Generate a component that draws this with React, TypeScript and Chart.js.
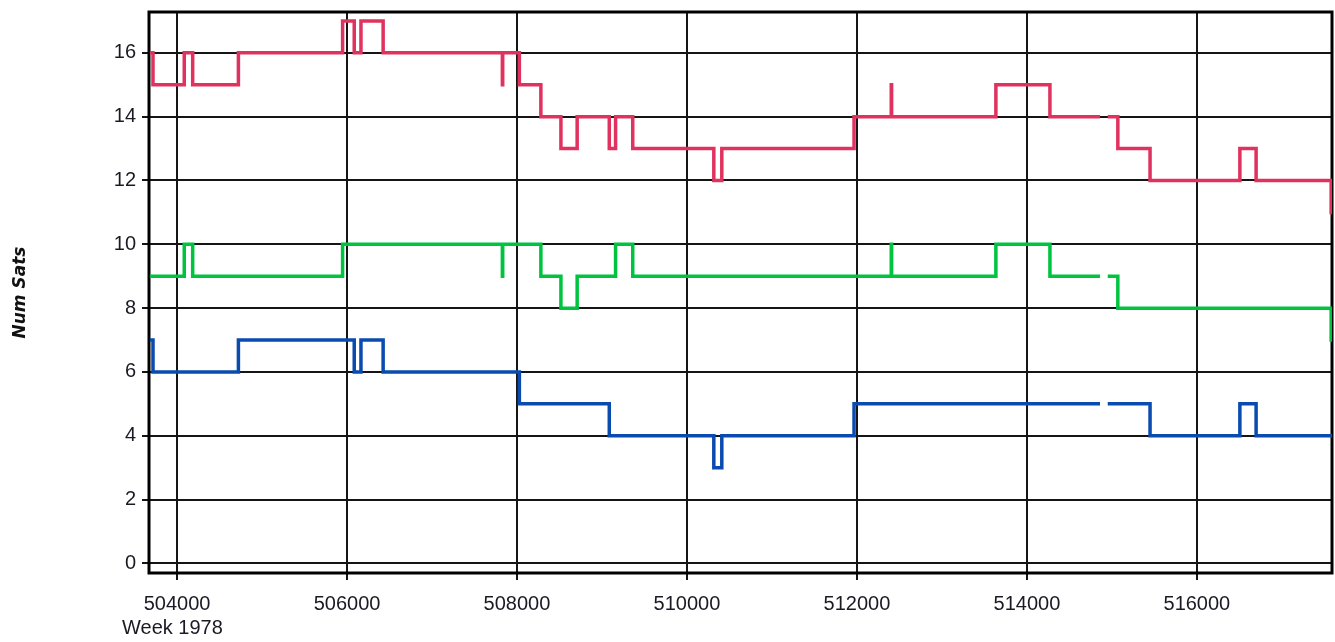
import React, { useEffect, useRef } from 'react';
import { Chart, registerables } from 'chart.js';

Chart.register(...registerables);

// Total satellites (red)
const redWeeks = [503680, 503717, 504085, 504184, 504722, 505948, 506085, 506164, 506425, 507828, 507832, 508028, 508281, 508517, 508708, 509086, 509160, 509362, 510316, 510410, 511966, 512404, 512408, 513635, 514271, 514860, 514900, 514951, 515070, 515449, 516506, 516697, 517580, 517600];
const redSats = [16, 15, 16, 15, 16, 17, 16, 17, 16, 15, 16, 15, 14, 13, 14, 13, 14, 13, 12, 13, 14, 15, 14, 15, 14, 14, null, 14, 13, 12, 13, 12, 11, 11];

// Green series
const greenWeeks = [503680, 504085, 504184, 505948, 507828, 507832, 508281, 508517, 508708, 509160, 509362, 512404, 512408, 513635, 514271, 514860, 514900, 514951, 515070, 517580, 517600];
const greenSats = [9, 10, 9, 10, 9, 10, 9, 8, 9, 10, 9, 10, 9, 10, 9, 9, null, 9, 8, 7, 7];

// Blue series
const blueWeeks = [503680, 503717, 504722, 506085, 506164, 506425, 508028, 509086, 510316, 510410, 511966, 514860, 514900, 514951, 515449, 516506, 516697, 517600];
const blueSats = [7, 6, 7, 6, 7, 6, 5, 4, 3, 4, 5, 5, null, 5, 4, 5, 4, 4];

const xTickValues = [504000, 506000, 508000, 510000, 512000, 514000, 516000];
const yTickValues = [0, 2, 4, 6, 8, 10, 12, 14, 16];
const xAxisLabel = 'Week 1978';
const yAxisLabel = 'Num Sats';

function toPoints(xs: number[], ys: (number | null)[]) {
  return xs.map((x, i) => ({ x, y: ys[i] }));
}

const TICK_FONT = { family: "'Liberation Sans', Arial, sans-serif", size: 20 };
const TEXT_COLOR = '#1a1a24';

export default function App() {
  const ref = useRef<HTMLCanvasElement>(null);

  useEffect(() => {
    document.body.style.margin = '0';
    const canvas = ref.current!;

    const framePlugin = {
      id: 'frame',
      beforeDatasetsDraw(chart: any) {
        const { ctx, chartArea: a } = chart;
        ctx.save();
        ctx.strokeStyle = '#000';
        ctx.lineWidth = 3;
        ctx.strokeRect(a.left, a.top, a.right - a.left, a.bottom - a.top);
        ctx.restore();
      },
      afterDraw(chart: any) {
        const { ctx, chartArea: a } = chart;
        ctx.save();
        ctx.font = "20px 'Liberation Sans', Arial, sans-serif";
        ctx.fillStyle = TEXT_COLOR;
        ctx.textAlign = 'left';
        ctx.textBaseline = 'middle';
        ctx.fillText(xAxisLabel, a.left - 27, a.bottom + 55);
        ctx.restore();
      },
    };

    const common = {
      borderWidth: 3.5,
      stepped: true,
      pointRadius: 0,
      fill: false,
      spanGaps: false,
    };

    const chart = new Chart(canvas, {
      type: 'line',
      data: {
        datasets: [
          { ...common, label: 'Total', data: toPoints(redWeeks, redSats), borderColor: '#E0325F' },
          { ...common, label: 'Green', data: toPoints(greenWeeks, greenSats), borderColor: '#00C43F' },
          { ...common, label: 'Blue', data: toPoints(blueWeeks, blueSats), borderColor: '#0A4BB0' },
        ],
      },
      options: {
        responsive: false,
        animation: false,
        devicePixelRatio: 1,
        layout: { padding: { top: 12, right: 3, left: 0, bottom: 0 } },
        plugins: { legend: { display: false }, tooltip: { enabled: false } },
        scales: {
          x: {
            type: 'linear',
            min: 503670,
            max: 517590,
            afterBuildTicks: (s: any) => {
              s.ticks = xTickValues.map((v) => ({ value: v }));
            },
            afterFit: (s: any) => {
              s.height = 69;
              s.paddingLeft = 0;
              s.paddingRight = 0;
            },
            ticks: {
              callback: (v: any) => String(v),
              font: TICK_FONT,
              color: TEXT_COLOR,
              padding: 12,
              maxRotation: 0,
              autoSkip: false,
            },
            grid: { color: '#151515', lineWidth: 2, tickLength: 7 },
            border: { display: false },
          },
          y: {
            type: 'linear',
            min: -0.3,
            max: 17.28,
            afterBuildTicks: (s: any) => {
              s.ticks = yTickValues.map((v) => ({ value: v }));
            },
            afterFit: (s: any) => {
              s.width = 149;
              s.paddingTop = 0;
              s.paddingBottom = 0;
            },
            ticks: {
              font: TICK_FONT,
              color: TEXT_COLOR,
              padding: 6,
              autoSkip: false,
            },
            grid: { color: '#151515', lineWidth: 2, tickLength: 7 },
            border: { display: false },
            title: {
              display: true,
              text: yAxisLabel,
              color: '#111',
              font: { family: "'DejaVu Sans', sans-serif", size: 17, weight: 'bold', style: 'italic' },
              padding: { top: 10, bottom: 0 },
            },
          },
        },
      },
      plugins: [framePlugin],
    } as any);

    return () => chart.destroy();
  }, []);

  return (
    <div style={{ position: 'absolute', left: 0, top: 0, width: 1335, height: 642 }}>
      <canvas ref={ref} width={1335} height={642} style={{ display: 'block' }} />
    </div>
  );
}
